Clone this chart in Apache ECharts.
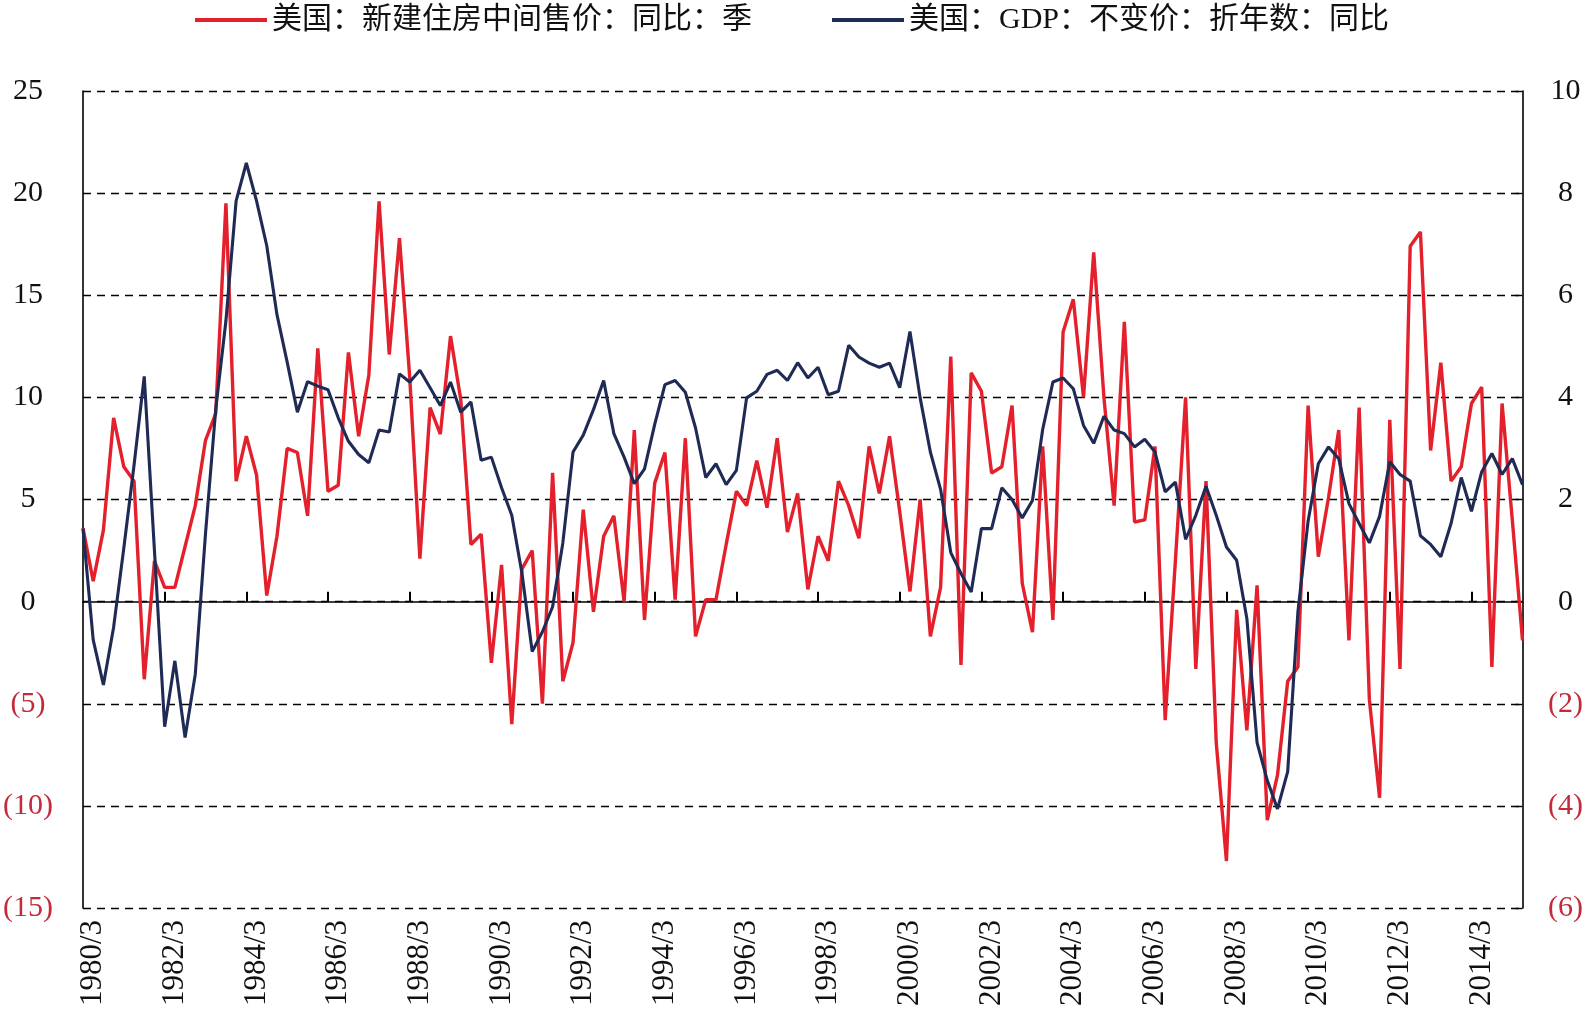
<!DOCTYPE html>
<html>
<head>
<meta charset="utf-8">
<title>美国新建住房中间售价与GDP同比</title>
<script src="https://cdn.jsdelivr.net/npm/echarts@6/dist/echarts.min.js"></script>
<style>
  html, body { margin: 0; padding: 0; background: #fff; }
  #chart { width: 1586px; height: 1013px; }
</style>
</head>
<body>
<div id="chart"></div>
<script>
// 季度标签：1979/12 起，到 2015/3
const categories = ["1979/12"];
for (let y = 1980; y <= 2015; y++) {
  for (const m of [3, 6, 9, 12]) {
    if (y === 2015 && m > 3) break;
    categories.push(y + "/" + m);
  }
}

// 美国：新建住房中间售价：同比：季 (左轴, %)
const housePrice = [
  3.6, 1.0, 3.5, 9.0, 6.6, 5.9, -3.8, 2.0, 0.7, 0.7,
  2.7, 4.7, 7.9, 9.2, 19.5, 5.9, 8.1, 6.2, 0.3, 3.2,
  7.5, 7.3, 4.2, 12.4, 5.4, 5.7, 12.2, 8.1, 11.1, 19.6,
  12.1, 17.8, 11.0, 2.1, 9.5, 8.2, 13.0, 9.9, 2.8, 3.3,
  -3.0, 1.8, -6.0, 1.6, 2.5, -5.0, 6.3, -3.9, -2.0, 4.5,
  -0.5, 3.2, 4.2, 0.0, 8.4, -0.9, 5.8, 7.3, 0.1, 8.0,
  -1.7, 0.1, 0.1, 2.8, 5.4, 4.7, 6.9, 4.6, 8.0, 3.4,
  5.3, 0.6, 3.2, 2.0, 5.9, 4.7, 3.1, 7.6, 5.3, 8.1,
  4.4, 0.5, 5.0, -1.7, 0.7, 12.0, -3.1, 11.2, 10.3, 6.3,
  6.6, 9.6, 0.9, -1.5, 7.6, -0.9, 13.2, 14.8, 10.0, 17.1,
  10.0, 4.7, 13.7, 3.9, 4.0, 7.6, -5.8, 2.0, 10.0, -3.3,
  5.9, -6.9, -12.7, -0.4, -6.3, 0.8, -10.7, -8.5, -3.9, -3.2,
  9.6, 2.2, 5.1, 8.4, -1.9, 9.5, -4.8, -9.6, 8.9, -3.3,
  17.4, 18.1, 7.4, 11.7, 5.9, 6.6, 9.7, 10.5, -3.2, 9.7,
  4.0, -1.9
];

// 美国：GDP：不变价：折年数：同比 (右轴, %)
const gdp = [
  1.43, -0.75, -1.63, -0.5, 1.05, 2.67, 4.41, 1.0, -2.45, -1.16,
  -2.66, -1.42, 1.33, 3.76, 5.5, 7.85, 8.59, 7.85, 6.97, 5.62,
  4.69, 3.71, 4.31, 4.22, 4.15, 3.6, 3.14, 2.88, 2.72, 3.36,
  3.32, 4.46, 4.3, 4.53, 4.19, 3.84, 4.3, 3.71, 3.91, 2.77,
  2.83, 2.23, 1.69, 0.55, -0.98, -0.59, -0.1, 1.15, 2.93, 3.26,
  3.76, 4.33, 3.29, 2.83, 2.31, 2.6, 3.47, 4.25, 4.33, 4.1,
  3.4, 2.43, 2.7, 2.29, 2.57, 3.99, 4.12, 4.45, 4.53, 4.33,
  4.68, 4.38, 4.59, 4.05, 4.12, 5.02, 4.79, 4.67, 4.59, 4.67,
  4.19, 5.29, 3.99, 2.93, 2.2, 0.96, 0.55, 0.19, 1.43, 1.43,
  2.23, 2.0, 1.64, 1.98, 3.37, 4.3, 4.38, 4.17, 3.45, 3.1,
  3.63, 3.36, 3.29, 3.03, 3.18, 2.93, 2.15, 2.34, 1.22, 1.69,
  2.26, 1.69, 1.07, 0.81, -0.33, -2.76, -3.5, -4.06, -3.33, -0.2,
  1.58, 2.7, 3.03, 2.8, 1.92, 1.53, 1.15, 1.67, 2.74, 2.49,
  2.36, 1.29, 1.12, 0.88, 1.53, 2.43, 1.77, 2.54, 2.9, 2.49,
  2.8, 2.29
];

const seriesNames = ["美国：新建住房中间售价：同比：季", "美国：GDP：不变价：折年数：同比"];

const serif = "'Liberation Serif', 'Times New Roman', 'Noto Sans CJK SC', serif";

function negLabel(v) {
  // 负数用括号并标红
  return v < 0 ? "{neg|(" + (-v) + ")}" : "{pos|" + v + "}";
}
const labelRich = {
  neg: { color: "#c42a3a", fontSize: 30, fontFamily: serif },
  pos: { color: "#111", fontSize: 30, fontFamily: serif }
};

const myChart = echarts.init(document.getElementById("chart"));

const option = {
  animation: false,
  backgroundColor: "#fff",
  legend: {
    top: 0,
    left: 190,
    itemWidth: 72,
    itemHeight: 4,
    itemGap: 80,
    icon: "rect",
    textStyle: {
      fontSize: 30,
      color: "#111",
      fontFamily: serif
    },
    data: seriesNames
  },
  grid: {
    left: 81,
    right: 61,
    top: 91,
    bottom: 105
  },
  xAxis: [
    {
      // 底部日期标签
      type: "category",
      data: categories,
      boundaryGap: false,
      position: "bottom",
      axisLine: { show: false, onZero: false },
      axisTick: { show: false },
      axisLabel: {
        rotate: 90,
        margin: 12,
        fontSize: 31,
        color: "#111",
        fontFamily: serif,
        interval: function (index) {
          return index % 8 === 1;
        }
      },
      splitLine: { show: false }
    },
    {
      // 零线与刻度
      type: "category",
      data: categories,
      boundaryGap: false,
      position: "bottom",
      axisLine: { show: true, onZero: true, lineStyle: { color: "#000", width: 1.5 } },
      axisTick: {
        show: true,
        inside: true,
        length: 10,
        lineStyle: { color: "#000", width: 2 },
        interval: function (index) {
          return index % 8 === 0 && index > 0;
        }
      },
      axisLabel: { show: false },
      splitLine: { show: false }
    }
  ],
  yAxis: [
    {
      type: "value",
      min: -15,
      max: 25,
      interval: 5,
      position: "left",
      axisLine: { show: true, lineStyle: { color: "#000", width: 1.6 } },
      axisTick: { show: false },
      axisLabel: {
        align: "center",
        margin: 55,
        formatter: negLabel,
        rich: labelRich
      },
      splitLine: {
        show: true,
        lineStyle: { color: "#000", width: 1.4, type: [8, 6] }
      }
    },
    {
      type: "value",
      min: -6,
      max: 10,
      interval: 2,
      position: "right",
      axisLine: { show: true, lineStyle: { color: "#000", width: 1.6 } },
      axisTick: { show: true, inside: true, length: 7, lineStyle: { color: "#000", width: 1.4 } },
      axisLabel: {
        align: "center",
        margin: 43,
        formatter: negLabel,
        rich: labelRich
      },
      splitLine: { show: false }
    }
  ],
  series: [
    {
      name: seriesNames[0],
      type: "line",
      xAxisIndex: 0,
      yAxisIndex: 0,
      data: housePrice,
      symbol: "none",
      lineStyle: { color: "#e3202b", width: 3.4 },
      itemStyle: { color: "#e3202b" },
      z: 3
    },
    {
      name: seriesNames[1],
      type: "line",
      xAxisIndex: 0,
      yAxisIndex: 1,
      data: gdp,
      symbol: "none",
      lineStyle: { color: "#1f2b55", width: 3.1 },
      itemStyle: { color: "#1f2b55" },
      z: 4
    }
  ]
};

myChart.setOption(option);
</script>
</body>
</html>
